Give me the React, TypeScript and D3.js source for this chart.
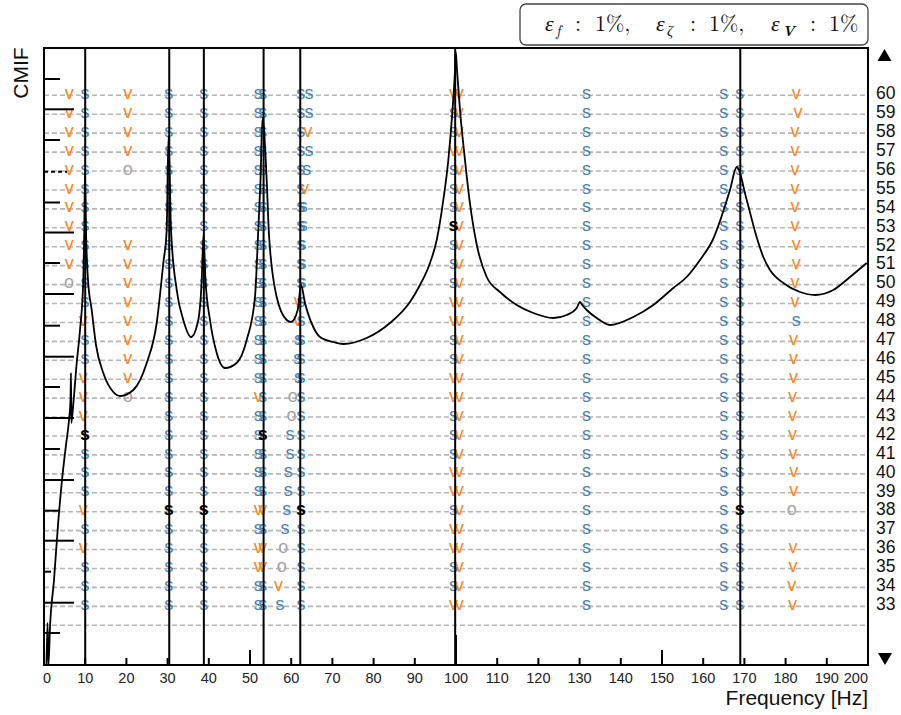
import React from "react";
import * as d3 from "d3";

// ---------------- data ----------------
const freqTicks = [0, 10, 20, 30, 40, 50, 60, 70, 80, 90, 100, 110, 120, 130, 140, 150, 160, 170, 180, 190, 200];
const orderTickLabels = [33, 34, 35, 36, 37, 38, 39, 40, 41, 42, 43, 44, 45, 46, 47, 48, 49, 50, 51, 52, 53, 54, 55, 56, 57, 58, 59, 60];
const gridOrders = [32, 33, 34, 35, 36, 37, 38, 39, 40, 41, 42, 43, 44, 45, 46, 47, 48, 49, 50, 51, 52, 53, 54, 55, 56, 57, 58, 59, 60];
const stabOrders = [60, 59, 58, 57, 56, 55, 54, 53, 52, 51, 50, 49, 48, 47, 46, 45, 44, 43, 42, 41, 40, 39, 38, 37, 36, 35, 34, 33];
const modeFreqs = [10.0, 30.4, 38.8, 53.3, 62.2, 99.8, 169.0];

const cmifFreq = [0.61, 0.85, 1.09, 1.46, 2.43, 3.4, 4.37, 5.34, 6.07, 6.43, 6.55, 6.63, 7.09, 7.94, 8.74, 9.54, 9.78, 9.95, 10.19, 10.68, 11.58, 12.62, 14.39, 16.82, 18.45, 21.67, 24.93, 27.35, 28.96, 29.78, 30.22, 30.83, 32.21, 33.81, 35.68, 37.45, 38.28, 38.71, 39.2, 40.29, 41.92, 43.93, 46.77, 49.2, 51.21, 52.01, 52.55, 53.03, 54.05, 54.61, 56.48, 58.91, 59.95, 61.58, 62.38, 63.35, 65.36, 66.99, 70.22, 72.65, 78.32, 83.98, 88.83, 91.26, 93.69, 95.32, 96.92, 98.14, 99.15, 99.76, 99.95, 100.24, 100.97, 102.18, 103.28, 105.0, 107.45, 110.68, 114.73, 118.76, 123.62, 126.87, 129.3, 130.1, 130.83, 131.72, 134.15, 137.38, 143.03, 147.89, 152.74, 155.99, 159.22, 162.3, 166.5, 168.13, 170.56, 172.82, 174.59, 176.21, 179.44, 183.5, 187.14, 191.58, 195.63, 199.68];
const cmifDb = [-61.7, -57.5, -61.7, -57.9, -53.2, -47.7, -43.2, -39.7, -37.2, -35.2, -32.5, -37.5, -35.7, -31.5, -28.2, -23.2, -18.2, -12.4, -18.2, -23.2, -26.2, -29.7, -32.5, -34.4, -34.8, -34.2, -31.5, -27.5, -21.5, -18.2, -8.8, -18.2, -24.2, -27.2, -28.9, -27.2, -23.2, -18.7, -23.2, -27.2, -30.5, -32.0, -31.5, -29.2, -24.9, -18.2, -13.2, -7.0, -13.2, -18.7, -24.9, -27.2, -27.4, -26.2, -23.7, -25.5, -27.9, -28.9, -29.4, -29.6, -29.0, -27.5, -25.4, -23.7, -21.5, -19.2, -15.2, -11.2, -6.2, -2.2, -0.4, -2.2, -6.2, -11.2, -15.2, -19.6, -22.9, -24.4, -25.7, -26.5, -27.0, -26.7, -26.0, -25.4, -25.8, -26.2, -27.0, -27.7, -26.9, -25.7, -24.0, -22.9, -21.2, -19.2, -14.2, -11.9, -15.2, -18.7, -20.9, -22.2, -23.5, -24.4, -24.7, -24.2, -22.9, -21.5];

const cmifTickDb = [-3.1, -6.13, -9.2, -12.37, -15.45, -18.45, -21.5, -24.6, -27.77, -30.87, -33.9, -37.0, -40.1, -43.2, -46.27, -49.27, -52.37, -55.47, -58.5];
const cmifTickKind = ["minor", "major", "minor", "dash", "minor", "major", "minor", "major", "minor", "major", "minor", "major", "minor", "major", "minor", "major", "small", "major", "minor"];

// stabilization columns: one code per model order (60 -> 33); s stable, v freq+vector, o new, S selected, . none
const colA_f = 6.1;
const colA_code = "vvvvvvvvvvo.................";
const colB_f = [9.95, 9.95, 9.95, 9.95, 9.95, 9.95, 9.95, 9.95, 9.95, 9.95, 9.95, 9.95, 9.5, 9.95, 9.95, 9.5, 9.5, 9.5, 9.95, 9.95, 9.95, 9.95, 9.5, 9.95, 9.5, 9.95, 9.95, 9.95];
const colB_code = "ssssssssssssvssvvvSsssvsvsss";
const colC_f = 20.3;
const colC_code = "vvvvo...vvvvvvvvo...........";
const colD_f = 30.3;
const colD_code = "ssssssssssssssssssssssSsssss";
const colE_f = 38.8;
const colE_code = "ssssssssssssssssssssssSsssss";
const colF1_f = 52.0;
const colF1_code = "ssssssssssssssssvsssssvsvvss";
const colF2_f = 53.1;
const colF2_code = "ssssssssssssssssssSsssvsvvss";
const colG1_f = [62.3, 62.3, 62.3, 62.3, 62.3, 62.3, 62.3, 62.3, 62.3, 62.3, 62.3, 61.7, 61.6, 61.8, 61.6, 61.8, 60.4, 60.1, 59.7, 59.7, 59.3, 59.3, 58.9, 58.5, 58.1, 57.7, 56.9, 57.3];
const colG1_code = "sssssssssssvvsssoossssssoovs";
const colG2_f = [64.3, 64.3, 64.0, 64.3, 63.8, 63.2, 62.9, 62.9, 62.6, 62.6, 62.6, 62.4, 62.4, 62.4, 62.4, 62.4, 62.4, 62.4, 62.4, 62.4, 62.4, 62.4, 62.4, 62.4, 62.4, 62.4, 62.4, 62.4];
const colG2_code = "ssvssvssssssssssssssssSsssss";
const colH1_f = 99.4;
const colH1_code = "vssvsssSsssvvssvvsssvvsvvssv";
const colH2_f = 100.8;
const colH2_code = "vvvvvvvvvvvvvvvvvvvvvvvvvvvv";
const colI_f = 131.7;
const colI_code = "ssssssssssssssssssssssssssss";
const colJ1_f = 165.0;
const colJ1_code = "ssssssssssssssssssssssssssss";
const colJ2_f = 168.9;
const colJ2_code = "ssssssssssssssssssssssSsssss";
const colK_f = [182.6, 183.0, 182.3, 182.3, 182.3, 182.3, 182.3, 182.3, 182.6, 182.6, 182.3, 182.3, 182.6, 181.9, 181.9, 181.9, 181.7, 181.7, 181.7, 181.8, 182.0, 182.0, 181.5, 181.8, 181.8, 181.8, 181.5, 181.7];
const colK_code = "vvvvvvvvvvvvsvvvvvvvvvo.vvvv";

const stabColumns: { f: number | number[]; code: string }[] = [
  { f: colA_f, code: colA_code },
  { f: colB_f, code: colB_code },
  { f: colC_f, code: colC_code },
  { f: colD_f, code: colD_code },
  { f: colE_f, code: colE_code },
  { f: colF1_f, code: colF1_code },
  { f: colF2_f, code: colF2_code },
  { f: colG1_f, code: colG1_code },
  { f: colG2_f, code: colG2_code },
  { f: colH1_f, code: colH1_code },
  { f: colH2_f, code: colH2_code },
  { f: colI_f, code: colI_code },
  { f: colJ1_f, code: colJ1_code },
  { f: colJ2_f, code: colJ2_code },
  { f: colK_f, code: colK_code },
];

// ---------------- chart ----------------
const W = 901;
const H = 715;
const L = 44, R = 868, T = 48, B = 665;
const SANS = "'Liberation Sans', Arial, Helvetica, sans-serif";
const SERIF = "'Latin Modern Roman', 'Liberation Serif', 'DejaVu Serif', serif";

const markerColor: Record<string, string> = { s: "#4682b4", v: "#ff8418", o: "#a3a3a3", S: "#000000" };

export default function App() {
  const x = d3.scaleLinear().domain([0, 200]).range([L, R]);
  const yOrd = d3.scaleLinear().domain([29.9, 62.5]).range([B, T]);
  const yC = d3.scaleLinear().domain([-61.7, 0]).range([B, T]);

  const cmifLine = d3
    .line<number>()
    .x((_, i) => x(cmifFreq[i]))
    .y((d) => yC(d))
    .curve(d3.curveMonotoneX);

  const tickLen = (f: number) => (f % 100 === 0 ? 30 : f % 50 === 0 ? 15 : 7);
  const leftLen: Record<string, number> = { minor: 16, major: 30, dash: 23, small: 7 };

  const markers: { f: number; o: number; c: string }[] = [];
  stabColumns.forEach((col) => {
    stabOrders.forEach((o, i) => {
      const c = col.code[i];
      if (c && c !== ".") {
        const f = Array.isArray(col.f) ? col.f[i] : col.f;
        markers.push({ f, o, c });
      }
    });
  });

  const legendY = 31;

  return (
    <svg width={W} height={H} style={{ position: "absolute", left: 0, top: 0, display: "block", background: "#fff" }}>
      {/* grid lines */}
      {gridOrders.map((o) => (
        <line key={"g" + o} x1={L} x2={R} y1={yOrd(o)} y2={yOrd(o)} stroke="#b5b5b5" strokeWidth={1.6} strokeDasharray="5,3" />
      ))}

      {/* stabilization markers (non-selected) */}
      {markers
        .filter((m) => m.c !== "S")
        .map((m, i) => (
          <text
            key={"m" + i}
            x={x(m.f)}
            y={yOrd(m.o) + 3.6}
            textAnchor="middle"
            fontFamily={SANS}
            fontSize={18}
            fill={markerColor[m.c]}
          >
            {m.c}
          </text>
        ))}

      {/* CMIF curve */}
      <path d={cmifLine(cmifDb) || ""} fill="none" stroke="#000" strokeWidth={1.8} strokeLinejoin="round" />

      {/* selected mode lines */}
      {modeFreqs.map((f) => (
        <line key={"v" + f} x1={x(f)} x2={x(f)} y1={T} y2={B} stroke="#000" strokeWidth={2} />
      ))}

      {/* selected markers */}
      {markers
        .filter((m) => m.c === "S")
        .map((m, i) => (
          <text
            key={"S" + i}
            x={x(m.f)}
            y={yOrd(m.o) + 3.6}
            textAnchor="middle"
            fontFamily={SANS}
            fontWeight="bold"
            fontSize={18}
            fill="#000"
          >
            s
          </text>
        ))}

      {/* left CMIF ticks */}
      {cmifTickDb.map((v, i) => (
        <line
          key={"lt" + i}
          x1={L}
          x2={L + leftLen[cmifTickKind[i]]}
          y1={yC(v)}
          y2={yC(v)}
          stroke="#000"
          strokeWidth={2}
          strokeDasharray={cmifTickKind[i] === "dash" ? "4,3" : undefined}
        />
      ))}

      {/* bottom ticks */}
      {freqTicks.map((f) => (
        <line key={"bt" + f} x1={x(f)} x2={x(f)} y1={B} y2={B - tickLen(f)} stroke="#000" strokeWidth={2} />
      ))}
      {freqTicks.map((f, i) => (
        <text
          key={"bl" + f}
          x={i === 0 ? x(f) - 1 : x(f)}
          y={683}
          textAnchor={i === 0 ? "start" : i === freqTicks.length - 1 ? "end" : "middle"}
          fontFamily={SANS}
          fontSize={14.5}
          fill="#222"
        >
          {f}
        </text>
      ))}

      {/* right order labels */}
      {orderTickLabels.map((o) => (
        <text key={"rl" + o} x={876} y={yOrd(o) + 3.8} fontFamily={SANS} fontSize={17.5} fill="#111">
          {o}
        </text>
      ))}

      {/* frame */}
      <rect x={L} y={T} width={R - L} height={B - T} fill="none" stroke="#000" strokeWidth={2} />

      {/* triangles */}
      <path d={`M${877.5},${61} L${891.5},${61} L${884.5},${49} Z`} fill="#000" />
      <path d={`M${878},${653} L${892},${653} L${885},${665} Z`} fill="#000" />

      {/* axis titles */}
      <text x={R} y={705} textAnchor="end" fontFamily={SANS} fontSize={21} fill="#111">
        Frequency [Hz]
      </text>
      <text transform="translate(28,73) rotate(-90)" textAnchor="middle" fontFamily={SANS} fontSize={21} fill="#111">
        CMIF
      </text>

      {/* legend */}
      <rect x={520} y={4} width={348} height={41} rx={6} ry={6} fill="#fff" stroke="#444" strokeWidth={1.3} />
      <text fontFamily={SERIF} fontSize={22} fill="#111" y={legendY}>
        <tspan x={545} fontStyle="italic">ε</tspan>
        <tspan x={556} dy={5} fontSize={15} fontStyle="italic">f</tspan>
        <tspan x={575} dy={-5}>:</tspan>
        <tspan x={595}>1%,</tspan>
        <tspan x={656} fontStyle="italic">ε</tspan>
        <tspan x={667} dy={5} fontSize={15} fontStyle="italic">ζ</tspan>
        <tspan x={690} dy={-5}>:</tspan>
        <tspan x={709}>1%,</tspan>
        <tspan x={771} fontStyle="italic">ε</tspan>
        <tspan x={782} dy={5} fontSize={15} fontStyle="italic" fontWeight="bold">V</tspan>
        <tspan x={810} dy={-5}>:</tspan>
        <tspan x={829}>1%</tspan>
      </text>
    </svg>
  );
}
